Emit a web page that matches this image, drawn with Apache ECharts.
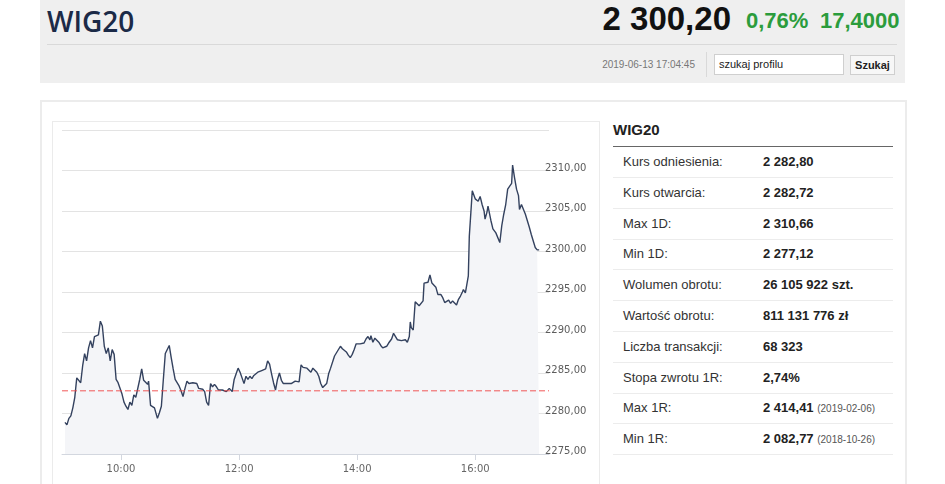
<!DOCTYPE html>
<html>
<head>
<meta charset="utf-8">
<script src="https://cdn.jsdelivr.net/npm/echarts@6/dist/echarts.min.js"></script>
<style>
  html, body { margin:0; padding:0; background:#fff; width:945px; height:484px; overflow:hidden; font-family:"Liberation Sans", Arial, sans-serif; }
  .abs { position:absolute; }
  #header { left:40px; top:0; width:865px; height:83px; background:#efefef; }
  #title { left:47px; top:2px; font-family:"Open Sans", sans-serif; font-weight:600; font-size:28px; color:#1b2a47; }
  #price { left:600px; top:0px; width:131px; text-align:right; font-weight:bold; font-size:33px; color:#111; }
  #pct { left:746px; top:8px; font-weight:bold; font-size:22px; color:#2b9c3c; }
  #chg { left:820px; top:8px; font-weight:bold; font-size:22px; color:#2b9c3c; }
  #hsep { left:47px; top:44px; width:850px; height:1px; background:#d9d9d9; }
  #date { left:560px; top:59px; width:135px; text-align:right; font-size:10px; color:#777; }
  #vsep { left:706px; top:52px; width:1px; height:25px; background:#d9d9d9; }
  #search { left:714px; top:54px; border:1px solid #cfcfcf; background:#fff; font-size:11px; line-height:19px; color:#222; padding-left:4px; box-sizing:border-box; width:130px; height:21px; }
  #btn { left:850px; top:55px; width:45px; border:1px solid #cfcfcf; background:#f7f7f7; font-size:11px; font-weight:bold; text-align:center; line-height:18px; color:#222; box-sizing:border-box; height:20px;}
  #box { left:40px; top:100px; width:867px; height:400px; border:2px solid #ececec; box-sizing:border-box; }
  #panel { left:52px; top:121px; width:548px; height:380px; border:1px solid #ebebeb; box-sizing:border-box; }
  #chart { left:53px; top:122px; width:547px; height:362px; }
  #ttitle { left:613px; top:121px; font-weight:bold; font-size:15px; color:#222; }
  #tline { left:613px; top:146px; width:280px; height:1px; background:#666; }
  .row { position:absolute; left:613px; width:280px; height:30px; border-bottom:1px solid #ececec; font-size:13px; color:#333; }
  .row .l { position:absolute; left:10px; top:7px; }
  .row .v { position:absolute; left:150px; top:7px; font-weight:bold; color:#222; }
  .row .v small { font-weight:normal; font-size:10px; color:#555; }
</style>
</head>
<body>
<div id="header" class="abs"></div>
<div id="title" class="abs">WIG20</div>
<div id="price" class="abs">2 300,20</div>
<div id="pct" class="abs">0,76%</div>
<div id="chg" class="abs">17,4000</div>
<div id="hsep" class="abs"></div>
<div id="date" class="abs">2019-06-13 17:04:45</div>
<div id="vsep" class="abs"></div>
<div id="search" class="abs">szukaj profilu</div>
<div id="btn" class="abs">Szukaj</div>
<div id="box" class="abs"></div>
<div id="panel" class="abs"></div>
<div id="chart" class="abs"></div>
<div id="ttitle" class="abs">WIG20</div>
<div id="tline" class="abs"></div>
<div id="table"></div>
<script>
// ---- data ----
const times = [
 "09:03","09:05","09:07","09:09","09:11","09:13","09:15","09:17","09:19","09:21","09:23","09:25","09:27","09:29","09:31","09:33","09:35","09:37","09:39","09:41",
 "09:43","09:45","09:47","09:49","09:51","09:53","09:55","09:57","09:59","10:01","10:03","10:05","10:07","10:09","10:11","10:13","10:15","10:17","10:19","10:21",
 "10:23","10:25","10:27","10:28","10:30","10:32","10:34","10:37","10:39","10:41","10:43","10:45","10:47","10:49","10:51","10:53","10:55","10:57","10:59","11:01",
 "11:03","11:05","11:07","11:09","11:11","11:13","11:15","11:17","11:19","11:21","11:23","11:25","11:27","11:29","11:31","11:33","11:35","11:37","11:39","11:41",
 "11:43","11:45","11:47","11:50","11:52","11:53","11:55","11:57","11:59","12:01","12:03","12:05","12:07","12:09","12:11","12:13","12:15","12:17","12:19","12:21",
 "12:23","12:25","12:27","12:29","12:31","12:33","12:35","12:37","12:39","12:41","12:43","12:45","12:47","12:49","12:51","12:53","12:55","12:57","12:59","13:01",
 "13:03","13:05","13:07","13:09","13:11","13:13","13:15","13:17","13:19","13:21","13:23","13:25","13:27","13:29","13:31","13:33","13:35","13:37","13:39","13:41",
 "13:43","13:45","13:47","13:49","13:51","13:53","13:55","13:57","13:59","14:01","14:03","14:05","14:07","14:09","14:11","14:13","14:14","14:16","14:18","14:20",
 "14:22","14:24","14:26","14:28","14:30","14:32","14:35","14:37","14:39","14:41","14:43","14:45","14:47","14:49","14:51","14:53","14:54","14:55","14:57","14:59",
 "15:01","15:03","15:05","15:07","15:08","15:10","15:12","15:14","15:16","15:18","15:20","15:22","15:25","15:27","15:29","15:31","15:33","15:35","15:37","15:39",
 "15:41","15:43","15:45","15:47","15:48","15:50","15:52","15:53","15:54","15:56","15:57","15:58","16:00","16:01","16:03","16:05","16:07","16:09","16:10","16:12",
 "16:13","16:14","16:16","16:17","16:18","16:21","16:23","16:25","16:27","16:29","16:31","16:33","16:35","16:37","16:38","16:40","16:42","16:44","16:45","16:47",
 "16:49","16:51","16:53","16:55","16:57","16:59","17:01","17:03","17:05"
];
const values = [
 2278.9,2278.6,2279.4,2279.7,2280.7,2282.0,2284.4,2284.2,2283.8,2285.9,2287.4,2286.5,2288.1,2289.0,2288.1,2289.5,2289.4,2289.7,2291.4,2290.8,
 2288.3,2287.4,2288.1,2286.5,2287.9,2287.3,2284.2,2283.8,2283.6,2282.4,2281.4,2280.9,2280.5,2281.4,2281.0,2282.3,2282.0,2282.1,2284.2,2285.5,
 2284.1,2284.0,2283.6,2284.0,2281.0,2280.9,2280.7,2279.4,2280.1,2280.9,2284.2,2287.4,2287.9,2288.4,2286.9,2285.5,2284.2,2284.0,2283.4,2282.8,
 2282.1,2283.1,2284.0,2283.7,2283.9,2283.8,2284.0,2283.7,2283.1,2282.9,2283.0,2282.7,2281.4,2281.0,2283.7,2283.3,2283.6,2283.3,2282.9,2283.1,
 2282.9,2283.0,2282.7,2283.1,2282.9,2282.7,2284.2,2284.9,2285.6,2285.1,2284.4,2283.7,2284.6,2284.2,2284.6,2284.3,2284.7,2284.9,2285.1,2285.3,
 2285.3,2285.1,2285.5,2286.5,2286.1,2284.9,2283.8,2282.9,2284.2,2285.0,2284.1,2283.7,2283.6,2283.7,2283.5,2283.7,2283.6,2284.0,2283.8,2283.9,
 2286.0,2285.7,2285.5,2285.6,2285.5,2285.1,2285.6,2285.6,2285.1,2284.6,2283.7,2283.2,2283.2,2283.7,2284.9,2285.6,2285.7,2287.1,2287.2,2287.9,
 2288.3,2288.0,2287.9,2287.6,2287.2,2286.9,2287.3,2287.9,2288.6,2288.8,2288.6,2288.8,2288.7,2289.2,2289.5,2289.1,2289.6,2288.8,2289.3,2289.1,
 2288.8,2288.4,2288.1,2288.3,2288.3,2288.7,2289.2,2289.9,2290.0,2289.1,2289.3,2289.0,2289.2,2289.1,2288.8,2289.5,2291.3,2290.6,2290.3,2293.8,
 2293.6,2293.3,2293.2,2293.9,2296.1,2296.2,2296.2,2297.1,2296.1,2296.1,2295.6,2294.7,2294.7,2294.3,2293.7,2293.5,2294.0,2293.6,2293.9,2293.7,
 2293.4,2294.1,2294.5,2295.0,2295.3,2294.9,2294.7,2297.0,2301.9,2305.6,2307.5,2307.5,2306.5,2306.7,2306.2,2306.8,2305.8,2305.0,2304.0,2304.9,
 2305.6,2305.4,2303.8,2303.6,2302.8,2302.3,2302.1,2301.1,2303.2,2304.6,2305.8,2307.7,2307.8,2308.4,2310.66,2309.1,2307.7,2306.9,2305.2,2305.8,
 2306.0,2304.6,2303.8,2303.0,2302.1,2301.3,2300.5,2300.2,2300.2
];
const referenceValue = 2282.80;
const xTickLabels = ["10:00","12:00","14:00","16:00"];
const xRange = ["09:00","17:15"];
const yMin = 2275, yMax = 2315, yStep = 5;

const tableLabels = ["Kurs odniesienia:","Kurs otwarcia:","Max 1D:","Min 1D:","Wolumen obrotu:","Wartość obrotu:","Liczba transakcji:","Stopa zwrotu 1R:","Max 1R:","Min 1R:"];
const tableValues = ["2 282,80","2 282,72","2 310,66","2 277,12","26 105 922 szt.","811 131 776 zł","68 323","2,74%","2 414,41","2 082,77"];
const tableDates  = ["","","","","","","","","(2019-02-06)","(2018-10-26)"];

// ---- table ----
const tbl = document.getElementById('table');
tableLabels.forEach((lab, i) => {
  const r = document.createElement('div');
  r.className = 'row';
  r.style.top = (147 + i * 30.8) + 'px';
  r.innerHTML = '<span class="l">' + lab + '</span><span class="v">' + tableValues[i] +
    (tableDates[i] ? ' <small>' + tableDates[i] + '</small>' : '') + '</span>';
  tbl.appendChild(r);
});

// ---- chart ----
const toMin = s => { const p = s.split(':'); return (+p[0]) * 60 + (+p[1]); };
const fmtMin = m => { const h = Math.floor(m / 60), mm = Math.round(m % 60); return h + ':' + (mm < 10 ? '0' : '') + mm; };
const seriesData = times.map((t, i) => [toMin(t), values[i]]);
const tickMins = xTickLabels.map(toMin);
const refData = xRange.map(t => [toMin(t), referenceValue]);

const chart = echarts.init(document.getElementById('chart'), null, { renderer: 'canvas' });
chart.setOption({
  animation: false,
  grid: { left: 9, top: 8, width: 487, height: 324, containLabel: false },
  xAxis: {
    type: 'value',
    min: toMin(xRange[0]), max: toMin(xRange[1]),
    axisLine: { show: true, lineStyle: { color: '#d3d7df', width: 1 } },
    axisTick: { show: true, length: 6, lineStyle: { color: '#d3d7df' }, customValues: tickMins },
    axisLabel: { customValues: tickMins, formatter: v => fmtMin(v), color: '#666', fontFamily: 'DejaVu Sans', fontSize: 10, margin: 10 },
    splitLine: { show: false }
  },
  yAxis: {
    type: 'value', position: 'right',
    min: yMin, max: yMax, interval: yStep,
    axisLine: { show: false }, axisTick: { show: false },
    axisLabel: {
      showMaxLabel: false, margin: -4, color: '#5c5c5c', fontFamily: 'DejaVu Sans', fontSize: 10,
      verticalAlign: 'bottom', lineHeight: 5,
      formatter: v => v.toFixed(2).replace('.', ',')
    },
    splitLine: { show: true, lineStyle: { color: '#e3e3e3', width: 1 } }
  },
  series: [{
    type: 'line',
    data: seriesData,
    showSymbol: false,
    symbol: 'none',
    lineStyle: { color: '#34425f', width: 1.4 },
    areaStyle: { color: '#f4f5f8', opacity: 1 },
    z: 2
  }, {
    type: 'line',
    data: refData,
    showSymbol: false,
    symbol: 'none',
    silent: true,
    lineStyle: { color: '#f04646', type: [6, 3], width: 1, opacity: 0.9 },
    z: 3
  }]
});
</script>
</body>
</html>
